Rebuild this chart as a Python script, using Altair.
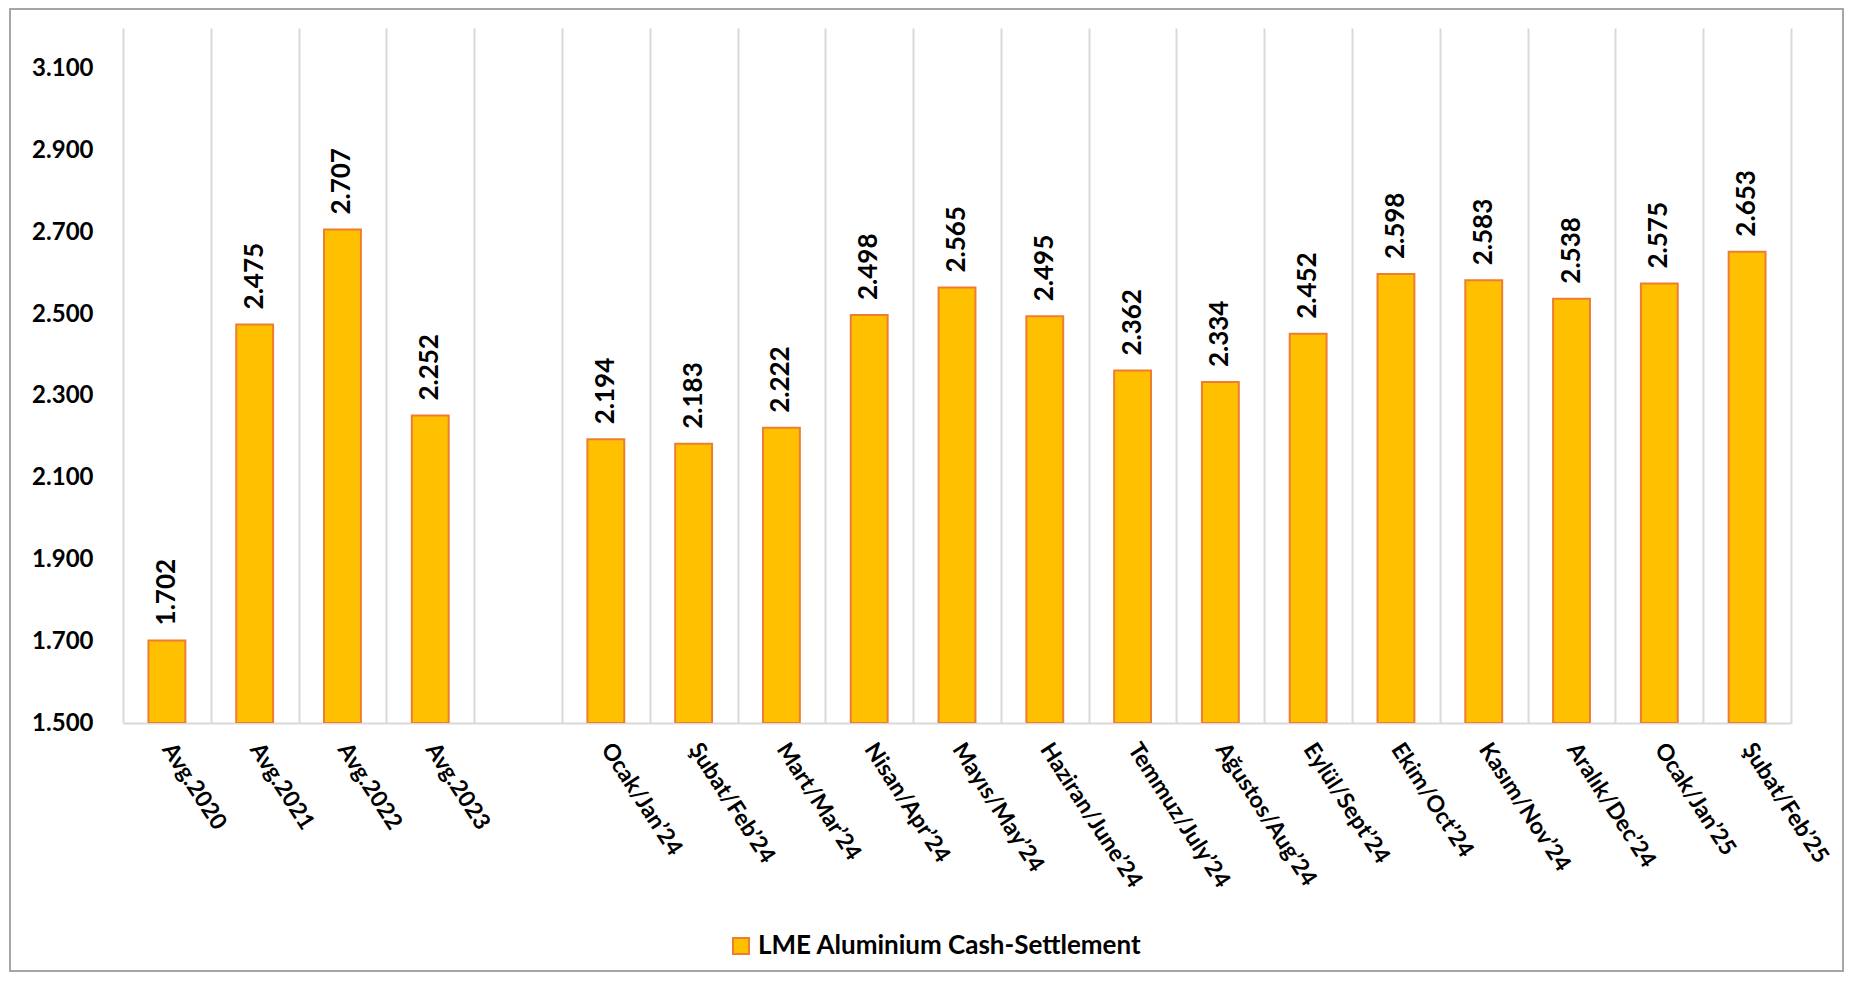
import altair as alt
import pandas as pd

categories = ["Avg.2020", "Avg.2021", "Avg.2022", "Avg.2023",
              "Ocak/Jan’24", "Şubat/Feb’24", "Mart/Mar’24", "Nisan/Apr’24",
              "Mayıs/May’24", "Haziran/June’24", "Temmuz/July’24", "Ağustos/Aug’24",
              "Eylül/Sept’24", "Ekim/Oct’24", "Kasım/Nov’24", "Aralık/Dec’24",
              "Ocak/Jan’25", "Şubat/Feb’25"]
values = [1702, 2475, 2707, 2252,
          2194, 2183, 2222, 2498, 2565, 2495, 2362, 2334,
          2452, 2598, 2583, 2538, 2575, 2653]
gap_label = " "
x_domain = categories[:4] + [gap_label] + categories[4:]
y_ticks = [1500, 1700, 1900, 2100, 2300, 2500, 2700, 2900, 3100]
y_min, y_max = 1500, 3200
series_name = "LME Aluminium Cash-Settlement"

df = pd.DataFrame({"cat": categories, "value": values, "series": series_name})

W, H = 1668, 695
PAD = {"left": 115, "top": 20, "right": 53, "bottom": 249}

FONT = "Lato"

x_scale = alt.Scale(domain=x_domain, paddingInner=0, paddingOuter=0)

x_enc = alt.X("cat:N", sort=x_domain, scale=x_scale,
              axis=alt.Axis(title=None, tickBand="extent", grid=True, gridColor="#D9D9D9",
                            gridWidth=2, ticks=False, domain=True, domainColor="#D9D9D9",
                            domainWidth=2, labelAngle=57, labelAlign="left",
                            labelBaseline="middle", labelPadding=22, labelFont=FONT,
                            labelFontSize=23, labelFontWeight="bold", labelColor="#000000",
                            labelLimit=400))
y_enc = alt.Y("value:Q",
              scale=alt.Scale(domain=[y_min, y_max], nice=False, zero=False),
              axis=alt.Axis(title=None, values=y_ticks, grid=False, domain=False, ticks=False,
                            labelPadding=30, labelFont=FONT, labelFontSize=24,
                            labelFontWeight="bold", labelColor="#000000",
                            labelExpr="replace(format(datum.value, ',.0f'), ',', '.')"))

base = alt.Chart(df)

bars = base.mark_bar(stroke="#ED7D31", strokeWidth=2, clip=True,
                     width=alt.RelativeBandSize(0.42)).encode(
    x=x_enc, y=y_enc, y2=alt.datum(y_min),
    color=alt.Color("series:N", scale=alt.Scale(range=["#FFC000"]),
                    legend=alt.Legend(title=None, orient="none", legendX=605, legendY=905,
                                      symbolType="square", symbolSize=256,
                                      symbolStrokeColor="#ED7D31", symbolStrokeWidth=2,
                                      labelFont=FONT, labelFontSize=26,
                                      labelFontWeight="bold", labelColor="#000000",
                                      labelOffset=4, labelLimit=600))
)

labels = base.transform_calculate(
    lbl="replace(format(datum.value, ',.0f'), ',', '.')"
).mark_text(angle=270, align="left", baseline="middle", dx=15, font=FONT,
            fontSize=26, fontWeight="bold", color="#000000").encode(
    x=alt.X("cat:N", sort=x_domain, scale=x_scale), y="value:Q", text="lbl:N")

frame = alt.Chart(pd.DataFrame({"f": [0]})).mark_rect(
    fill=None, stroke="#A6A6A6", strokeWidth=2).encode(
    x=alt.value(-PAD["left"] + 2), x2=alt.value(W + PAD["right"] - 1),
    y=alt.value(-PAD["top"] + 1), y2=alt.value(H + PAD["bottom"] - 1))

chart = alt.layer(frame, bars, labels).properties(
    width=W, height=H,
    autosize=alt.AutoSizeParams(type="none"),
    padding=PAD,
    background="white",
).configure_view(stroke=None)

chart.save("out.html", embed_options={"renderer": "svg", "actions": False})
